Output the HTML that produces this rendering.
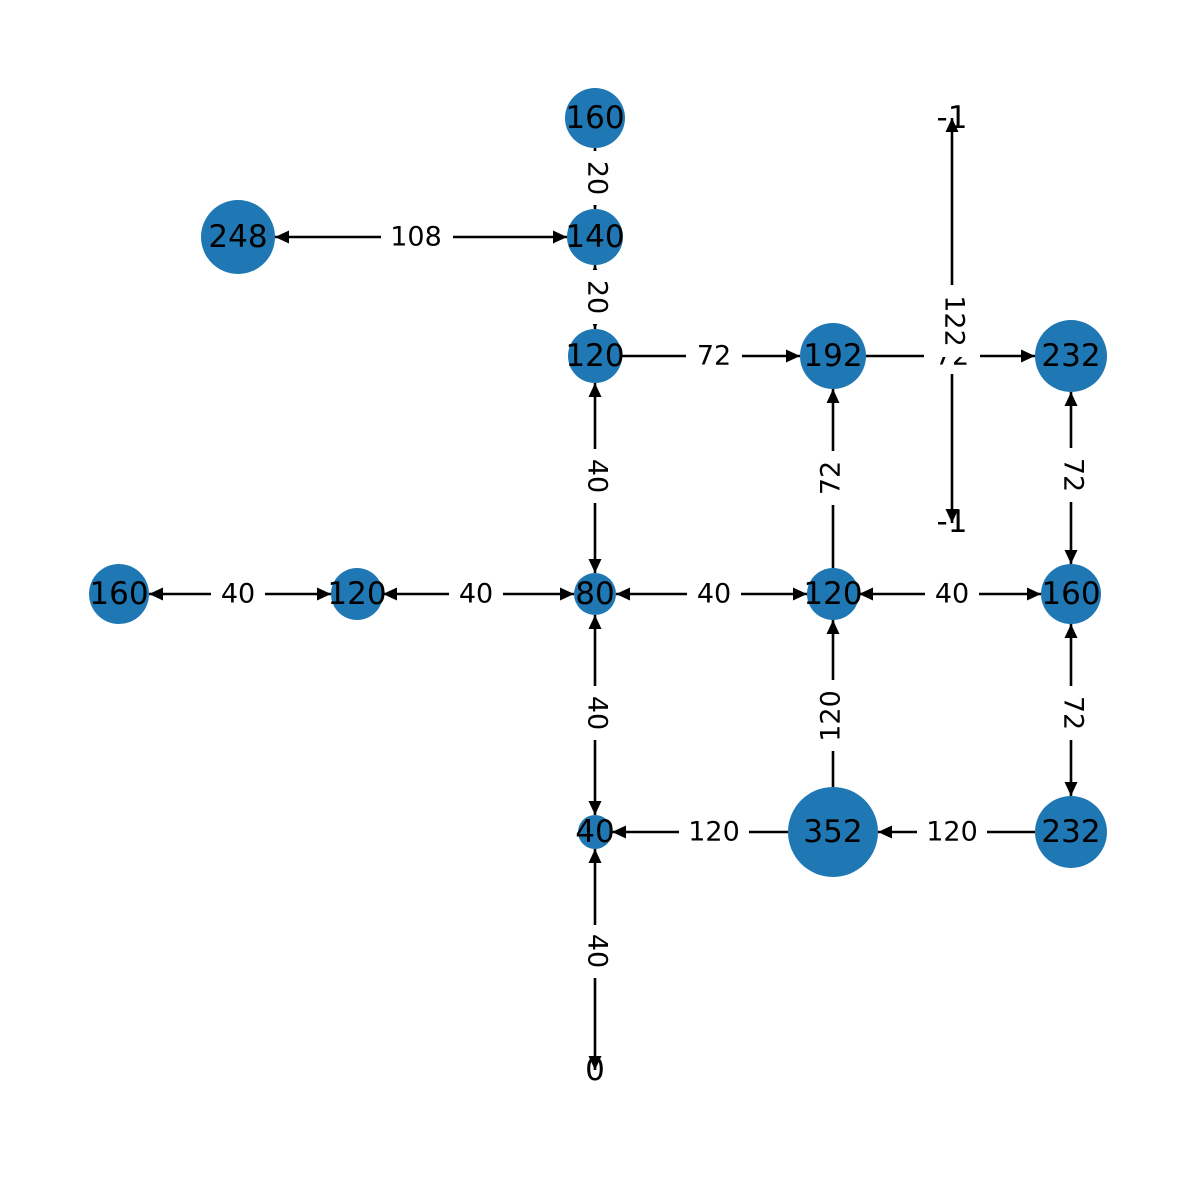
<!DOCTYPE html>
<html><head><meta charset="utf-8"><style>
html,body{margin:0;padding:0;background:#fff;}
svg{display:block;}
text{font-family:"DejaVu Sans","Liberation Sans",sans-serif;}
</style></head><body>
<svg width="1190" height="1190" viewBox="0 0 1190 1190" xmlns="http://www.w3.org/2000/svg">
<defs>
<marker id="a" markerUnits="userSpaceOnUse" markerWidth="16" markerHeight="14" refX="14" refY="6.5" orient="auto-start-reverse">
<path d="M0,0 L14,6.5 L0,13 z" fill="#000"/>
</marker>
</defs>
<g fill="#1f77b4">
<circle cx="595" cy="118" r="30"/>
<circle cx="595" cy="237" r="28"/>
<circle cx="238" cy="237" r="37"/>
<circle cx="595" cy="356" r="27"/>
<circle cx="833" cy="356" r="33"/>
<circle cx="1071" cy="356" r="36"/>
<circle cx="119" cy="594" r="30"/>
<circle cx="357" cy="594" r="26"/>
<circle cx="595" cy="594" r="21"/>
<circle cx="833" cy="594" r="26"/>
<circle cx="1071" cy="594" r="30"/>
<circle cx="595" cy="832" r="17"/>
<circle cx="833" cy="832" r="45"/>
<circle cx="1071" cy="832" r="36"/>
</g>
<g font-size="31" text-anchor="middle" dominant-baseline="central" fill="#000">
<text x="595" y="118">160</text>
<text x="595" y="237">140</text>
<text x="238" y="237">248</text>
<text x="595" y="356">120</text>
<text x="833" y="356">192</text>
<text x="1071" y="356">232</text>
<text x="952" y="118">-1</text>
<text x="952" y="522">-1</text>
<text x="119" y="594">160</text>
<text x="357" y="594">120</text>
<text x="595" y="594">80</text>
<text x="833" y="594">120</text>
<text x="1071" y="594">160</text>
<text x="595" y="832">40</text>
<text x="833" y="832">352</text>
<text x="1071" y="832">232</text>
<text x="595" y="1070">0</text>
</g>
<g stroke="#000" stroke-width="2.6" fill="none">
<line x1="595" y1="148" x2="595" y2="209" marker-start="url(#a)" marker-end="url(#a)"/>
<line x1="595" y1="265" x2="595" y2="329" marker-start="url(#a)" marker-end="url(#a)"/>
<line x1="275" y1="237" x2="567" y2="237" marker-start="url(#a)" marker-end="url(#a)"/>
<line x1="622" y1="356" x2="800" y2="356" marker-end="url(#a)"/>
<line x1="866" y1="356" x2="1035" y2="356" marker-end="url(#a)"/>
<line x1="952" y1="118" x2="952" y2="523" marker-start="url(#a)" marker-end="url(#a)"/>
<line x1="595" y1="383" x2="595" y2="573" marker-start="url(#a)" marker-end="url(#a)"/>
<line x1="833" y1="568" x2="833" y2="389" marker-end="url(#a)"/>
<line x1="1071" y1="392" x2="1071" y2="564" marker-start="url(#a)" marker-end="url(#a)"/>
<line x1="149" y1="594" x2="331" y2="594" marker-start="url(#a)" marker-end="url(#a)"/>
<line x1="383" y1="594" x2="574" y2="594" marker-start="url(#a)" marker-end="url(#a)"/>
<line x1="616" y1="594" x2="807" y2="594" marker-start="url(#a)" marker-end="url(#a)"/>
<line x1="859" y1="594" x2="1041" y2="594" marker-start="url(#a)" marker-end="url(#a)"/>
<line x1="595" y1="615" x2="595" y2="815" marker-start="url(#a)" marker-end="url(#a)"/>
<line x1="833" y1="787" x2="833" y2="620" marker-end="url(#a)"/>
<line x1="1071" y1="624" x2="1071" y2="796" marker-start="url(#a)" marker-end="url(#a)"/>
<line x1="788" y1="832" x2="612" y2="832" marker-end="url(#a)"/>
<line x1="1035" y1="832" x2="878" y2="832" marker-end="url(#a)"/>
<line x1="595" y1="849" x2="595" y2="1070" marker-start="url(#a)" marker-end="url(#a)"/>
</g>
<g font-size="27" text-anchor="middle" dominant-baseline="central" fill="#000">
<rect x="381" y="219" width="72" height="36" fill="#fff"/><text x="416" y="237">108</text>
<rect x="686" y="338" width="56" height="36" fill="#fff"/><text x="714" y="356">72</text>
<rect x="924" y="338" width="56" height="36" fill="#fff"/><text x="952" y="356">72</text>
<rect x="211" y="576" width="54" height="36" fill="#fff"/><text x="238" y="594">40</text>
<rect x="449" y="576" width="54" height="36" fill="#fff"/><text x="476" y="594">40</text>
<rect x="687" y="576" width="54" height="36" fill="#fff"/><text x="714" y="594">40</text>
<rect x="925" y="576" width="54" height="36" fill="#fff"/><text x="952" y="594">40</text>
<rect x="679" y="814" width="70" height="36" fill="#fff"/><text x="714" y="832">120</text>
<rect x="917" y="814" width="70" height="36" fill="#fff"/><text x="952" y="832">120</text>
<rect x="576" y="151" width="38" height="54" fill="#fff"/><text transform="translate(597,178) rotate(90)">20</text>
<rect x="576" y="270" width="38" height="54" fill="#fff"/><text transform="translate(597,297) rotate(90)">20</text>
<rect x="933" y="285" width="38" height="72" fill="#fff"/><text transform="translate(954,321) rotate(90)">122</text>
<rect x="576" y="449" width="38" height="54" fill="#fff"/><text transform="translate(597,476) rotate(90)">40</text>
<rect x="814" y="451" width="38" height="54" fill="#fff"/><text transform="translate(831,478) rotate(-90)">72</text>
<rect x="1052" y="448" width="38" height="54" fill="#fff"/><text transform="translate(1073,475) rotate(90)">72</text>
<rect x="576" y="686" width="38" height="54" fill="#fff"/><text transform="translate(597,713) rotate(90)">40</text>
<rect x="814" y="680" width="38" height="71" fill="#fff"/><text transform="translate(831,716) rotate(-90)">120</text>
<rect x="1052" y="686" width="38" height="54" fill="#fff"/><text transform="translate(1073,713) rotate(90)">72</text>
<rect x="576" y="925" width="38" height="53" fill="#fff"/><text transform="translate(597,951) rotate(90)">40</text>
</g>
</svg>
</body></html>
